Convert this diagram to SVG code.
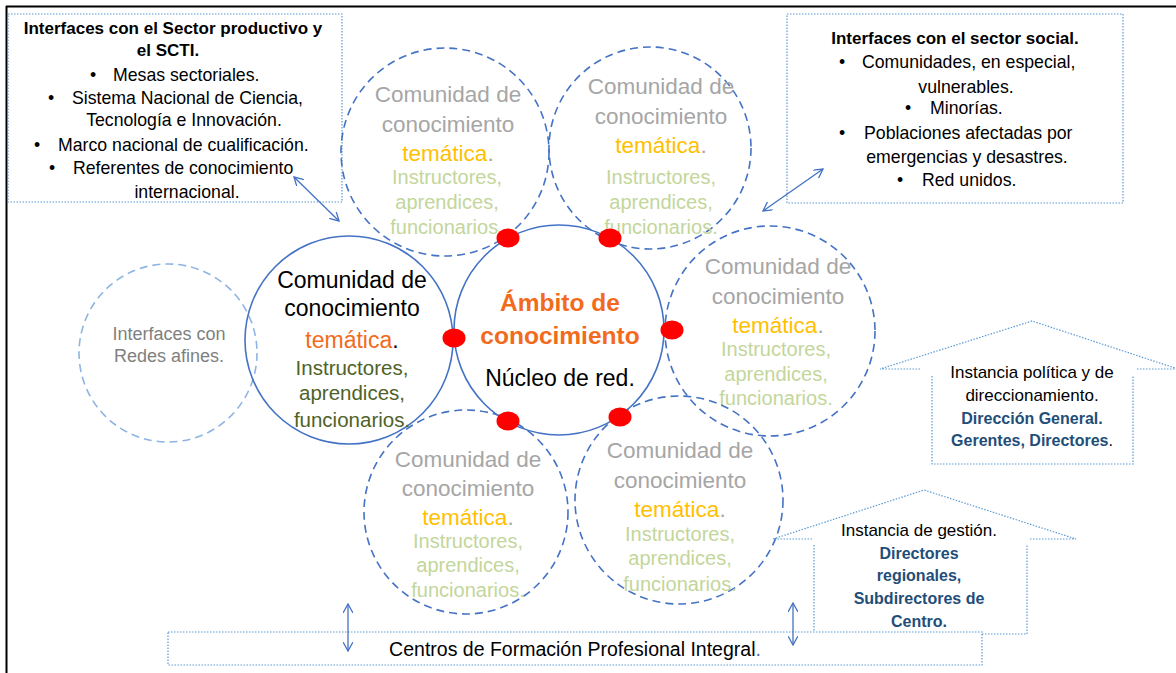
<svg xmlns="http://www.w3.org/2000/svg" width="1176" height="673" viewBox="0 0 1176 673">
<style>
text{font-family:"Liberation Sans",Arial,sans-serif;}
.box{fill:none;stroke:#5b9bd5;stroke-width:1.2;stroke-dasharray:1.5 1.5;}
.solid{fill:none;stroke:#4472c4;stroke-width:1.6;}
.dash{fill:none;stroke:#4472c4;stroke-width:1.6;stroke-dasharray:8 5;}
.faint{fill:none;stroke:#8eb4e3;stroke-width:1.6;stroke-dasharray:8 5;}
.dot{fill:#ff0000;}
.t16{font-size:17.7px;fill:#000;}
.b17{font-size:17px;font-weight:bold;fill:#000;}
.t17{font-size:17px;fill:#000;}
.blue{font-size:16px;font-weight:bold;fill:#1f4e79;}
.gray{font-size:22.5px;fill:#a6a6a6;}
.gold{fill:#ffc000;}
.lg{font-size:20px;fill:#c3d69b;}
.blk{font-size:23px;fill:#000;}
.org{fill:#f26b1d;}
.olive{font-size:20.5px;fill:#4f6228;}
.amb{font-size:24.5px;font-weight:bold;fill:#f26b1d;}
.c{text-anchor:middle;}
.conn{fill:none;stroke:#4472c4;stroke-width:1.3;}
</style>
<defs>
<marker id="ah" viewBox="0 0 10 10" refX="9" refY="5" markerWidth="10" markerHeight="10" markerUnits="userSpaceOnUse" orient="auto-start-reverse">
<path d="M0,0 L9,5 L0,10" fill="none" stroke="#4472c4" stroke-width="1.3"/>
</marker>
</defs>
<rect width="1176" height="673" fill="#fff"/>
<g id="frame">
<line x1="6" y1="6.5" x2="1176" y2="6.5" stroke="#000" stroke-width="2"/>
<line x1="6.5" y1="6" x2="6.5" y2="673" stroke="#000" stroke-width="2"/>
</g>

<g id="box-productivo">
<rect class="box" x="8" y="14" width="334" height="188"/>
<text class="b17 c" x="173" y="34">Interfaces con el Sector productivo y</text>
<text class="b17 c" x="168" y="56">el SCTI.</text>
<text class="t16" x="90" y="81">•</text><text class="t16" x="113" y="81">Mesas sectoriales.</text>
<text class="t16" x="48" y="104">•</text><text class="t16" x="72" y="104">Sistema Nacional de Ciencia,</text>
<text class="t16 c" x="184" y="126">Tecnología e Innovación.</text>
<text class="t16" x="34" y="151">•</text><text class="t16" x="58" y="151">Marco nacional de cualificación.</text>
<text class="t16" x="49" y="174">•</text><text class="t16" x="73" y="174">Referentes de conocimiento</text>
<text class="t16 c" x="187" y="198">internacional.</text>
</g>

<g id="box-social">
<rect class="box" x="787" y="14" width="336" height="189"/>
<text class="b17 c" x="955" y="44">Interfaces con el sector social.</text>
<text class="t16" x="839" y="68">•</text><text class="t16" x="862" y="68">Comunidades, en especial,</text>
<text class="t16 c" x="966" y="93">vulnerables.</text>
<text class="t16" x="905" y="114">•</text><text class="t16" x="930" y="114">Minorías.</text>
<text class="t16" x="839" y="139">•</text><text class="t16" x="864" y="139">Poblaciones afectadas por</text>
<text class="t16 c" x="967" y="163">emergencias y desastres.</text>
<text class="t16" x="897" y="186">•</text><text class="t16" x="922" y="186">Red unidos.</text>
</g>

<g id="redes-afines">
<circle class="faint" cx="168" cy="353" r="89"/>
<text class="c" x="169" y="340" style="font-size:18px;fill:#7f7f7f">Interfaces con</text>
<text class="c" x="169" y="362" style="font-size:18px;fill:#7f7f7f">Redes afines.</text>
</g>

<g id="comunidad-arriba-izq">
<circle class="dash" cx="445" cy="152" r="104"/>
<text class="gray c" x="448" y="102">Comunidad de</text>
<text class="gray c" x="448" y="132">conocimiento</text>
<text class="gray c" x="448" y="161"><tspan class="gold">temática</tspan>.</text>
<text class="lg c" x="447" y="184">Instructores,</text>
<text class="lg c" x="447" y="209">aprendices,</text>
<text class="lg c" x="447" y="234">funcionarios.</text>
</g>

<g id="comunidad-arriba-der">
<circle class="dash" cx="650" cy="148" r="101"/>
<text class="gray c" x="661" y="94">Comunidad de</text>
<text class="gray c" x="661" y="124">conocimiento</text>
<text class="gray c" x="661" y="153"><tspan class="gold">temática</tspan>.</text>
<text class="lg c" x="661" y="184">Instructores,</text>
<text class="lg c" x="661" y="209">aprendices,</text>
<text class="lg c" x="661" y="234">funcionarios.</text>
</g>

<g id="comunidad-der">
<circle class="dash" cx="770" cy="331" r="105"/>
<text class="gray c" x="778" y="274">Comunidad de</text>
<text class="gray c" x="778" y="304">conocimiento</text>
<text class="gray c" x="778" y="333"><tspan class="gold">temática</tspan>.</text>
<text class="lg c" x="776" y="356">Instructores,</text>
<text class="lg c" x="776" y="381">aprendices,</text>
<text class="lg c" x="776" y="405">funcionarios.</text>
</g>

<g id="comunidad-abajo-izq">
<circle class="dash" cx="466" cy="512" r="102"/>
<text class="gray c" x="468" y="467">Comunidad de</text>
<text class="gray c" x="468" y="496">conocimiento</text>
<text class="gray c" x="468" y="525"><tspan class="gold">temática</tspan>.</text>
<text class="lg c" x="468" y="548">Instructores,</text>
<text class="lg c" x="468" y="572">aprendices,</text>
<text class="lg c" x="468" y="597">funcionarios.</text>
</g>

<g id="comunidad-abajo-der">
<circle class="dash" cx="679" cy="500" r="104"/>
<text class="gray c" x="680" y="458">Comunidad de</text>
<text class="gray c" x="680" y="488">conocimiento</text>
<text class="gray c" x="680" y="517"><tspan class="gold">temática</tspan>.</text>
<text class="lg c" x="680" y="541">Instructores,</text>
<text class="lg c" x="680" y="565">aprendices,</text>
<text class="lg c" x="680" y="591">funcionarios.</text>
</g>

<g id="comunidad-tematica">
<circle class="solid" cx="349" cy="340" r="104"/>
<text class="blk c" x="352" y="288">Comunidad de</text>
<text class="blk c" x="352" y="316">conocimiento</text>
<text class="blk c" x="352" y="348"><tspan class="org">temática</tspan>.</text>
<text class="olive c" x="352" y="375">Instructores,</text>
<text class="olive c" x="352" y="400">aprendices,</text>
<text class="olive c" x="352" y="427">funcionarios.</text>
</g>

<g id="ambito">
<circle class="solid" cx="559" cy="330" r="105"/>
<text class="amb c" x="560" y="311">Ámbito de</text>
<text class="amb c" x="560" y="344">conocimiento</text>
<text class="blk c" x="560" y="386">Núcleo de red.</text>
</g>

<g id="nodos-enlace">
<ellipse class="dot" cx="508" cy="238" rx="11.5" ry="9.5"/>
<ellipse class="dot" cx="610" cy="238" rx="11.5" ry="9.5"/>
<ellipse class="dot" cx="454" cy="338" rx="11.5" ry="9.5"/>
<ellipse class="dot" cx="672" cy="330" rx="11.5" ry="9.5"/>
<ellipse class="dot" cx="508" cy="421" rx="11.5" ry="9.5"/>
<ellipse class="dot" cx="620" cy="417" rx="11.5" ry="9.5"/>
</g>

<g id="instancia-politica">
<path class="box" d="M920,369 H880 L1032,321 L1178,369 M1137,369 H1176"/>
<path class="box" d="M932,376 V464 H1133 V376"/>
<text class="t17 c" x="1032" y="378">Instancia política y de</text>
<text class="t17 c" x="1032" y="401">direccionamiento.</text>
<text class="blue c" x="1032" y="424">Dirección General.</text>
<text class="blue c" x="1032" y="446">Gerentes, Directores<tspan style="font-weight:normal;fill:#000">.</tspan></text>
</g>

<g id="instancia-gestion">
<path class="box" d="M812,539 H773 L924,490 L1076,539 H1029"/>
<path class="box" d="M814,545 V632 M982,634 H1027 V545"/>
<text class="t17 c" x="919" y="536">Instancia de gestión.</text>
<text class="blue c" x="919" y="559">Directores</text>
<text class="blue c" x="919" y="581">regionales,</text>
<text class="blue c" x="919" y="604">Subdirectores de</text>
<text class="blue c" x="919" y="627">Centro.</text>
</g>

<g id="centros">
<rect class="box" x="168" y="632" width="814" height="33"/>
<text class="c" x="575" y="656" style="font-size:19.5px;fill:#000">Centros de Formación Profesional Integral<tspan style="fill:#4472c4">.</tspan></text>
</g>

<g id="connectors">
<line class="conn" x1="294" y1="177" x2="339" y2="221" marker-start="url(#ah)" marker-end="url(#ah)"/>
<line class="conn" x1="763" y1="211" x2="823" y2="169" marker-start="url(#ah)" marker-end="url(#ah)"/>
<line class="conn" x1="348" y1="604" x2="348" y2="651" marker-start="url(#ah)" marker-end="url(#ah)"/>
<line class="conn" x1="793" y1="603" x2="793" y2="645" marker-start="url(#ah)" marker-end="url(#ah)"/>
</g>
</svg>
